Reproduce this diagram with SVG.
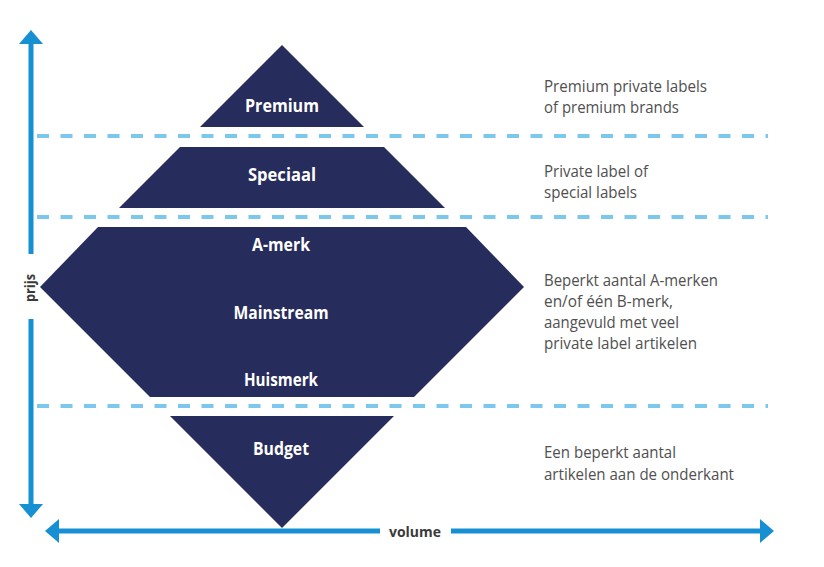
<svg xmlns="http://www.w3.org/2000/svg" width="824" height="567" viewBox="0 0 824 567">
<style>
.shape{fill:#262c5b}
.lbl{font-family:"Open Sans","Liberation Sans",sans-serif;font-weight:700;font-size:18px;fill:#ffffff;text-anchor:middle}
.desc{font-family:"Open Sans","Liberation Sans",sans-serif;font-size:16.5px;fill:#505050}
.axis{font-family:"Open Sans","Liberation Sans",sans-serif;font-weight:700;font-size:15px;fill:#3a3a3a;text-anchor:middle}
.dash{stroke:#7cc7ec;stroke-width:4;stroke-dasharray:12 11.5;fill:none}
.ax{stroke:#1690d2;stroke-width:5;fill:none}
.head{fill:#1690d2}
</style>
<rect width="824" height="567" fill="#ffffff"/>
<g id="connectors">
  <line class="dash" x1="37" y1="136" x2="768" y2="136"/>
  <line class="dash" x1="37" y1="217" x2="768" y2="217"/>
  <line class="dash" x1="37" y1="406" x2="768" y2="406"/>
  <line class="ax" x1="31" y1="42" x2="31" y2="254"/>
  <line class="ax" x1="31" y1="319" x2="31" y2="506"/>
  <polygon class="head" points="31,30 43,44 19,44"/>
  <polygon class="head" points="31,518 43,504 19,504"/>
  <line class="ax" x1="56" y1="531" x2="380" y2="531"/>
  <line class="ax" x1="451" y1="531" x2="762" y2="531"/>
  <polygon class="head" points="45,531 59,519 59,543"/>
  <polygon class="head" points="774,531 760,519 760,543"/>
  <text class="axis" transform="translate(35,288) rotate(-90)" x="0" y="0" textLength="28" lengthAdjust="spacingAndGlyphs">prijs</text>
  <text class="axis" x="415" y="537" textLength="52" lengthAdjust="spacingAndGlyphs">volume</text>
</g>
<g id="premium">
  <polygon class="shape" points="282,45 364,127 200,127"/>
  <text class="lbl" x="282" y="112" textLength="74" lengthAdjust="spacingAndGlyphs">Premium</text>
</g>
<g id="speciaal">
  <polygon class="shape" points="180,147 384,147 445,208 119,208"/>
  <text class="lbl" x="282" y="181" textLength="68" lengthAdjust="spacingAndGlyphs">Speciaal</text>
</g>
<g id="mainstream">
  <polygon class="shape" points="98,227 466,227 524,287 414,397 150,397 40,287"/>
  <text class="lbl" x="281" y="251" textLength="58" lengthAdjust="spacingAndGlyphs">A-merk</text>
  <text class="lbl" x="281" y="319" textLength="95" lengthAdjust="spacingAndGlyphs">Mainstream</text>
  <text class="lbl" x="281" y="386" textLength="74" lengthAdjust="spacingAndGlyphs">Huismerk</text>
</g>
<g id="budget">
  <polygon class="shape" points="170,416 394,416 282,528"/>
  <text class="lbl" x="281" y="455" textLength="56" lengthAdjust="spacingAndGlyphs">Budget</text>
</g>
<g id="desc-premium">
  <text class="desc" x="544" y="92" textLength="163" lengthAdjust="spacingAndGlyphs">Premium private labels</text>
  <text class="desc" x="544" y="113" textLength="135" lengthAdjust="spacingAndGlyphs">of premium brands</text>
</g>
<g id="desc-speciaal">
  <text class="desc" x="544" y="177" textLength="104" lengthAdjust="spacingAndGlyphs">Private label of</text>
  <text class="desc" x="544" y="198" textLength="93" lengthAdjust="spacingAndGlyphs">special labels</text>
</g>
<g id="desc-mainstream">
  <text class="desc" x="544" y="286" textLength="174" lengthAdjust="spacingAndGlyphs">Beperkt aantal A-merken</text>
  <text class="desc" x="544" y="307" textLength="129" lengthAdjust="spacingAndGlyphs">en/of één B-merk,</text>
  <text class="desc" x="544" y="328" textLength="135" lengthAdjust="spacingAndGlyphs">aangevuld met veel</text>
  <text class="desc" x="544" y="349" textLength="153" lengthAdjust="spacingAndGlyphs">private label artikelen</text>
</g>
<g id="desc-budget">
  <text class="desc" x="544" y="458" textLength="132" lengthAdjust="spacingAndGlyphs">Een beperkt aantal</text>
  <text class="desc" x="544" y="480" textLength="190" lengthAdjust="spacingAndGlyphs">artikelen aan de onderkant</text>
</g>
</svg>
